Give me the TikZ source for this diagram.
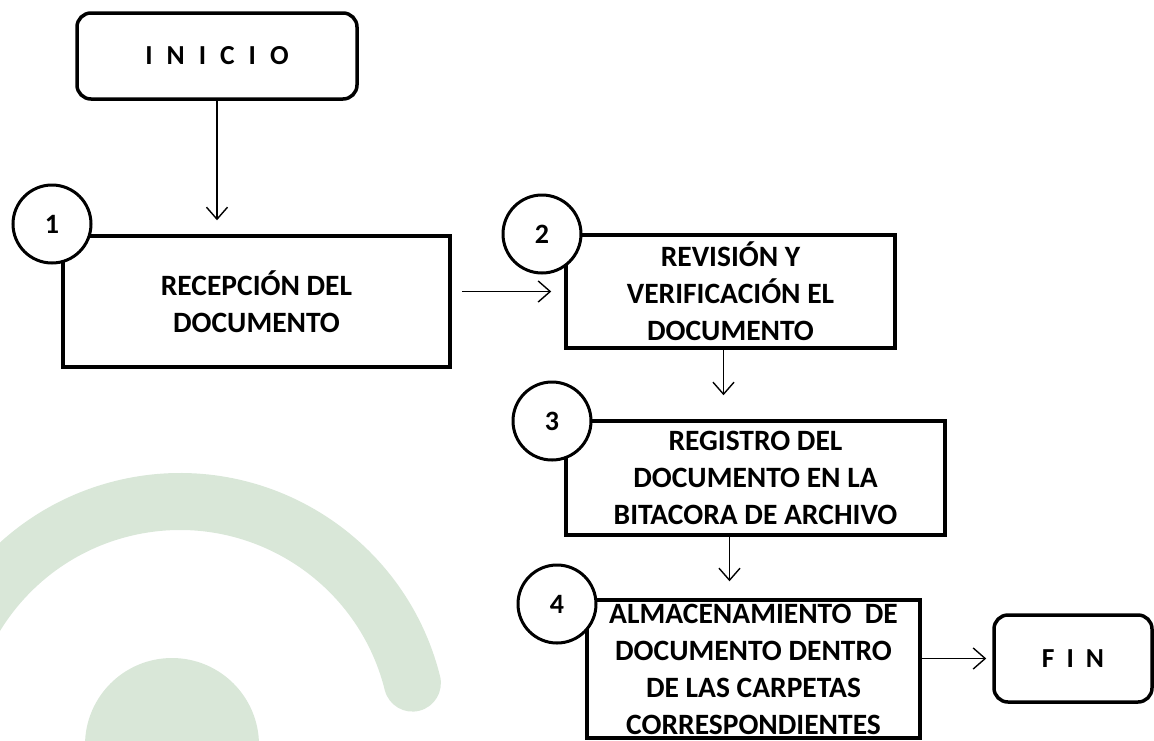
\documentclass[tikz,border=0pt]{standalone}
\usepackage{fontspec}
\setmainfont{Carlito}
\usetikzlibrary{arrows.meta,positioning}
\definecolor{bggreen}{RGB}{217,231,216}

\begin{document}
\begin{tikzpicture}[
        x=1pt, y=-1pt,
        every node/.style={align=center},
        stepbox/.style={draw, line width=3.5pt, inner sep=0pt, font=\fontsize{29.5}{37}\selectfont\bfseries},
        endbox/.style={draw, line width=3.5pt, rounded corners=14pt, inner sep=0pt, font=\fontsize{27.5}{30}\selectfont\bfseries},
        num/.style={draw, circle, fill=white, line width=3pt, minimum size=78pt, inner sep=0pt, font=\fontsize{28}{30}\selectfont\bfseries},
        arr/.style={line width=1.4pt, -{Straight Barb[length=12pt,width=21pt]}}
    ]

    \useasboundingbox (0,0) rectangle (1154,740);

    % Background
    \begin{scope}
        \clip (0,0) rectangle (1154,740);
        \draw[bggreen, line width=57pt, line cap=round] (412.4,683.1) arc[start angle=-14, end angle=-185, radius=239.5];
        \fill[bggreen] (172,745) circle[radius=87];
    \end{scope}

    % Nodes
    \node[endbox, minimum width=280pt, minimum height=86pt] (ini) at (217,56)
        {I\hspace{14pt}N\hspace{14pt}I\hspace{14pt}C\hspace{14pt}I\hspace{14pt}O};

    \node[stepbox, minimum width=387pt, minimum height=131pt] (b1) at (256.5,301.5)
        {RECEPCIÓN DEL \\ DOCUMENTO};

    \node[stepbox, minimum width=329pt, minimum height=113pt] (b2) at (730.5,291.5)
        {REVISIÓN Y \\ VERIFICACIÓN EL \\ DOCUMENTO};

    \node[stepbox, minimum width=379pt, minimum height=114pt] (b3) at (755.5,478)
        {REGISTRO DEL \\ DOCUMENTO EN LA \\ BITACORA DE ARCHIVO};

    \node[stepbox, minimum width=333pt, minimum height=138pt] (b4) at (753.5,669)
        {ALMACENAMIENTO~ DE \\ DOCUMENTO DENTRO \\ DE LAS CARPETAS \\ CORRESPONDIENTES};

    \node[endbox, minimum width=158pt, minimum height=87pt] (fin) at (1073,658.5)
        {F\hspace{12pt}I\hspace{12pt}N};

    \node[num] (n1) at (52,224) {1};
    \node[num] (n2) at (542,234) {2};
    \node[num] (n3) at (552,421) {3};
    \node[num] (n4) at (557,604) {4};

    % Edges
    \draw[arr, shorten >=14pt] (ini.south) -- (ini.south |- b1.north);
    \draw[arr, shorten <=10pt, shorten >=13pt] (b1.east |- b2.west) -- (b2.west);
    \draw[arr, shorten >=24pt] ([xshift=-7pt]b2.south) -- ([xshift=-7pt]b2.south |- b3.north);
    \draw[arr, shorten >=17pt] ([xshift=-26pt]b3.south) -- ([xshift=-26pt]b3.south |- b4.north);
    \draw[arr, shorten >=6pt] (b4.east |- fin.west) -- (fin.west);

\end{tikzpicture}
\end{document}
